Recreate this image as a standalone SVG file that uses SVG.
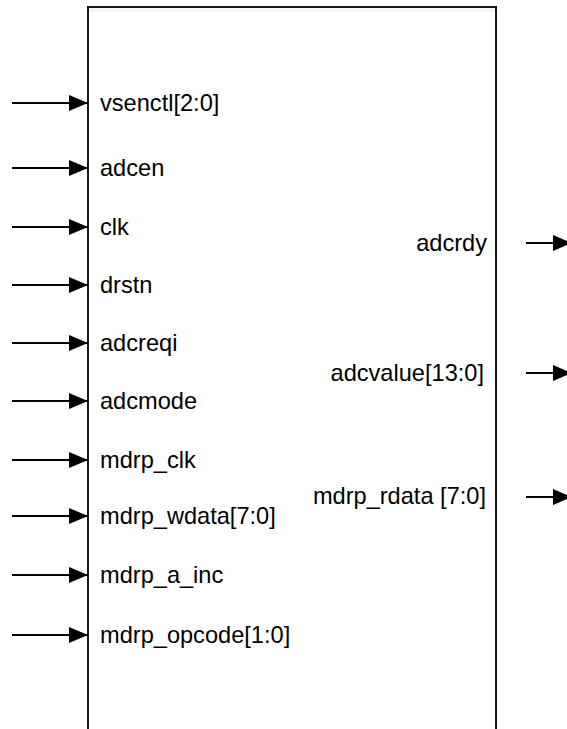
<svg xmlns="http://www.w3.org/2000/svg" width="567" height="729" viewBox="0 0 567 729">
<style>
.lbl{font-family:"Liberation Sans",Arial,sans-serif;font-size:23.6px;fill:#000}
.r{text-anchor:end}
.wire{stroke:#000;stroke-width:2.2;fill:none}
</style>
<defs>
<marker id="ah" markerUnits="userSpaceOnUse" markerWidth="19" markerHeight="16" refX="19" refY="8" orient="auto">
<path d="M0,0 L19,8 L0,16 Z" fill="#000"/>
</marker>
</defs>
<rect x="0" y="0" width="567" height="729" fill="#fff"/>
<g id="block">
<rect x="90" y="9" width="408" height="740" fill="#eef2f6"/>
<rect x="88" y="7" width="408" height="740" fill="#fff" stroke="#1a1a1a" stroke-width="2"/>
<rect x="89" y="8" width="406" height="4" fill="#f4f7fa"/>
</g>
<g id="labels">
<text class="lbl" x="100" y="111">vsenctl[2:0]</text>
<text class="lbl" x="100" y="176">adcen</text>
<text class="lbl" x="100" y="235">clk</text>
<text class="lbl" x="100" y="293">drstn</text>
<text class="lbl" x="100" y="351">adcreqi</text>
<text class="lbl" x="100" y="409">adcmode</text>
<text class="lbl" x="100" y="468">mdrp_clk</text>
<text class="lbl" x="100" y="524">mdrp_wdata[7:0]</text>
<text class="lbl" x="100" y="583">mdrp_a_inc</text>
<text class="lbl" x="100" y="643">mdrp_opcode[1:0]</text>
<text class="lbl r" x="487" y="251">adcrdy</text>
<text class="lbl r" x="484" y="381">adcvalue[13:0]</text>
<text class="lbl r" x="486" y="504">mdrp_rdata [7:0]</text>
</g>
<g id="connectors">
<line class="wire" x1="12" y1="103" x2="88" y2="103" marker-end="url(#ah)"/>
<line class="wire" x1="12" y1="168" x2="88" y2="168" marker-end="url(#ah)"/>
<line class="wire" x1="12" y1="227" x2="88" y2="227" marker-end="url(#ah)"/>
<line class="wire" x1="12" y1="285" x2="88" y2="285" marker-end="url(#ah)"/>
<line class="wire" x1="12" y1="343" x2="88" y2="343" marker-end="url(#ah)"/>
<line class="wire" x1="12" y1="401" x2="88" y2="401" marker-end="url(#ah)"/>
<line class="wire" x1="12" y1="460" x2="88" y2="460" marker-end="url(#ah)"/>
<line class="wire" x1="12" y1="516" x2="88" y2="516" marker-end="url(#ah)"/>
<line class="wire" x1="12" y1="575" x2="88" y2="575" marker-end="url(#ah)"/>
<line class="wire" x1="12" y1="635" x2="88" y2="635" marker-end="url(#ah)"/>
<line class="wire" x1="526" y1="243" x2="572" y2="243" marker-end="url(#ah)"/>
<line class="wire" x1="526" y1="373" x2="572" y2="373" marker-end="url(#ah)"/>
<line class="wire" x1="526" y1="497" x2="572" y2="497" marker-end="url(#ah)"/>
</g>
</svg>
